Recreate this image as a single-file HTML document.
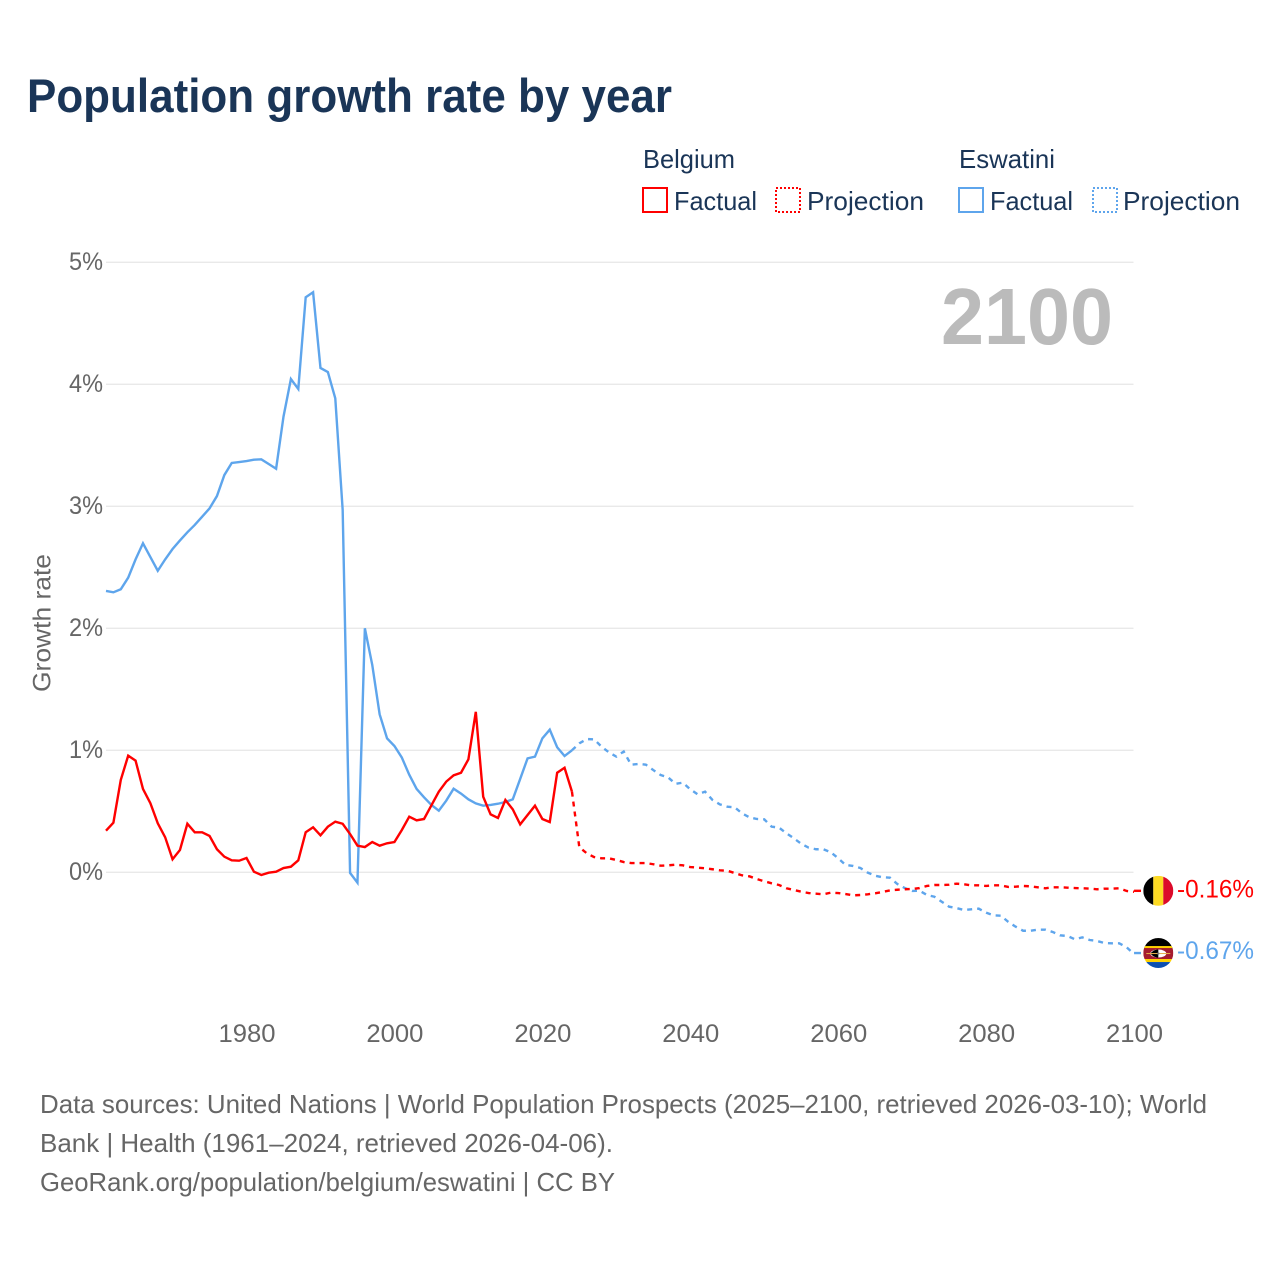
<!DOCTYPE html>
<html lang="en">
<head>
<meta charset="utf-8">
<title>Population growth rate by year</title>
<style>
html,body{margin:0;padding:0;background:#fff}
svg{display:block;font-family:"Liberation Sans",Arial,sans-serif}
</style>
</head>
<body>
<svg id="chart" xmlns="http://www.w3.org/2000/svg" width="1280" height="1280" viewBox="0 0 1280 1280">
  <rect x="0" y="0" width="1280" height="1280" fill="#ffffff"/>
  <text x="27" y="112" font-size="47" font-weight="700" fill="#1a3557" textLength="645" lengthAdjust="spacingAndGlyphs">Population growth rate by year</text>

  <g font-size="26" fill="#1a3557">
    <text x="643" y="168" textLength="92" lengthAdjust="spacingAndGlyphs">Belgium</text>
    <rect x="643" y="188" width="24" height="24" fill="none" stroke="#ff0000" stroke-width="2"/>
    <text x="674" y="210" textLength="83" lengthAdjust="spacingAndGlyphs">Factual</text>
    <rect x="776" y="188" width="24" height="24" fill="none" stroke="#ff0000" stroke-width="2" stroke-dasharray="2 2"/>
    <text x="807" y="210" textLength="117" lengthAdjust="spacingAndGlyphs">Projection</text>
    <text x="959" y="168" textLength="96" lengthAdjust="spacingAndGlyphs">Eswatini</text>
    <rect x="959" y="188" width="24" height="24" fill="none" stroke="#5ea5ec" stroke-width="2"/>
    <text x="990" y="210" textLength="83" lengthAdjust="spacingAndGlyphs">Factual</text>
    <rect x="1093" y="188" width="24" height="24" fill="none" stroke="#5ea5ec" stroke-width="2" stroke-dasharray="2 2"/>
    <text x="1123" y="210" textLength="117" lengthAdjust="spacingAndGlyphs">Projection</text>
  </g>

  <g id="grid"></g>
  <g id="yticks"></g>
  <g id="xticks"></g>
  <text transform="translate(50.5,692) rotate(-90)" font-size="25" fill="#666666" textLength="138" lengthAdjust="spacingAndGlyphs">Growth rate</text>
  <text x="941" y="344" font-size="80" font-weight="700" fill="#bbbbbb" textLength="172" lengthAdjust="spacingAndGlyphs">2100</text>

  <g id="series"></g>

  <defs>
    <clipPath id="flag-clip"><circle cx="0" cy="0" r="15"/></clipPath>
  </defs>
  <g id="flag-belgium">
    <g clip-path="url(#flag-clip)">
      <rect x="-15" y="-15" width="10" height="30" fill="#000000"/>
      <rect x="-5" y="-15" width="10" height="30" fill="#fdda24"/>
      <rect x="5" y="-15" width="10" height="30" fill="#dc0a2a"/>
    </g>
  </g>
  <g id="flag-eswatini">
    <g clip-path="url(#flag-clip)">
      <rect x="-15" y="-15" width="30" height="11" fill="#000000"/>
      <rect x="-15" y="-7" width="30" height="3" fill="#fed100"/>
      <rect x="-15" y="-5" width="30" height="11" fill="#a51c30"/>
      <rect x="-15" y="6" width="30" height="3" fill="#fed100"/>
      <rect x="-15" y="9" width="30" height="6" fill="#0c4fb0"/>
      <ellipse cx="0" cy="0.5" rx="8" ry="4" fill="#ffffff"/>
      <path d="M-8 0.5Q-4 -4 0 -3.5V4.5Q-4 5 -8 0.5Z" fill="#000000"/>
      <rect x="-12" y="0" width="24" height="1" fill="#e8b04a"/>
      <circle cx="0" cy="0.5" r="1.2" fill="#777777"/>
    </g>
  </g>
  <text id="label-belgium" font-size="25" fill="#ff0000" x="1177" textLength="77" lengthAdjust="spacingAndGlyphs"></text>
  <text id="label-eswatini" font-size="25" fill="#5ea5ec" x="1177" textLength="77" lengthAdjust="spacingAndGlyphs"></text>

  <g font-size="26" fill="#666666">
    <text x="40" y="1113" textLength="1167" lengthAdjust="spacingAndGlyphs">Data sources: United Nations | World Population Prospects (2025–2100, retrieved 2026-03-10); World</text>
    <text x="40" y="1152" textLength="573" lengthAdjust="spacingAndGlyphs">Bank | Health (1961–2024, retrieved 2026-04-06).</text>
    <text x="40" y="1191" textLength="575" lengthAdjust="spacingAndGlyphs">GeoRank.org/population/belgium/eswatini | CC BY</text>
  </g>
</svg>

<script>
const factualStartYear = 1961;
const projectionStartYear = 2024;
const xTickYears = [1980, 2000, 2020, 2040, 2060, 2080, 2100];
const yTickValues = [0, 1, 2, 3, 4, 5];
const yTickLabels = ["0%", "1%", "2%", "3%", "4%", "5%"];

const belgiumFactual = [0.341,0.407,0.757,0.956,0.915,0.683,0.566,0.402,0.287,0.107,0.183,0.398,0.328,0.328,0.298,0.189,0.128,0.098,0.095,0.117,0.005,-0.022,-0.003,0.005,0.035,0.046,0.098,0.328,0.369,0.303,0.374,0.415,0.398,0.314,0.218,0.207,0.248,0.218,0.238,0.248,0.347,0.456,0.426,0.437,0.549,0.661,0.743,0.795,0.816,0.926,1.315,0.62,0.475,0.445,0.593,0.516,0.393,0.47,0.546,0.437,0.412,0.816,0.857,0.661];
const eswatiniFactual = [2.306,2.295,2.32,2.415,2.565,2.697,2.584,2.472,2.565,2.65,2.72,2.787,2.847,2.915,2.983,3.084,3.256,3.355,3.363,3.371,3.382,3.385,3.347,3.308,3.735,4.043,3.962,4.713,4.754,4.134,4.1,3.885,2.97,-0.005,-0.085,2.0,1.7,1.295,1.098,1.035,0.94,0.8,0.683,0.615,0.552,0.505,0.587,0.685,0.645,0.598,0.565,0.546,0.552,0.562,0.576,0.598,0.765,0.934,0.948,1.098,1.169,1.025,0.953,1.0];
const belgiumProjection = [0.661,0.205,0.156,0.125,0.115,0.115,0.101,0.084,0.076,0.076,0.076,0.066,0.054,0.057,0.062,0.057,0.043,0.038,0.033,0.025,0.016,0.013,-0.006,-0.025,-0.033,-0.055,-0.074,-0.09,-0.104,-0.131,-0.145,-0.159,-0.17,-0.175,-0.18,-0.167,-0.17,-0.178,-0.189,-0.186,-0.18,-0.172,-0.161,-0.148,-0.143,-0.139,-0.137,-0.129,-0.112,-0.104,-0.104,-0.102,-0.093,-0.098,-0.107,-0.107,-0.112,-0.107,-0.107,-0.12,-0.118,-0.112,-0.115,-0.123,-0.131,-0.123,-0.123,-0.126,-0.129,-0.131,-0.134,-0.139,-0.134,-0.134,-0.131,-0.153,-0.16];
const eswatiniProjection = [1.0,1.057,1.092,1.09,1.03,0.983,0.948,0.99,0.882,0.888,0.882,0.838,0.797,0.778,0.725,0.735,0.68,0.639,0.661,0.593,0.557,0.538,0.533,0.483,0.451,0.437,0.434,0.374,0.366,0.32,0.279,0.234,0.202,0.189,0.189,0.164,0.115,0.06,0.052,0.035,-0.003,-0.028,-0.041,-0.044,-0.096,-0.129,-0.153,-0.151,-0.186,-0.2,-0.241,-0.282,-0.293,-0.309,-0.303,-0.298,-0.331,-0.353,-0.356,-0.407,-0.446,-0.479,-0.479,-0.47,-0.47,-0.489,-0.517,-0.522,-0.549,-0.533,-0.555,-0.563,-0.58,-0.582,-0.582,-0.615,-0.67];
const endValueLabels = ["-0.16%", "-0.67%"];

const SVGNS = "http://www.w3.org/2000/svg";
const plotLeft = 106, plotRight = 1133.5;
function xScale(year) { return 106 + (year - 1961) * 7.396; }
function yScale(value) { return 872.3 - value * 122; }

function linePath(startYear, values) {
  return values.map(function (v, i) {
    return (i ? "L" : "M") + xScale(startYear + i).toFixed(2) + " " + yScale(v).toFixed(2);
  }).join("");
}

const grid = document.getElementById("grid");
const yticks = document.getElementById("yticks");
yTickValues.forEach(function (v, i) {
  const ln = document.createElementNS(SVGNS, "line");
  
  
  ln.setAttribute("x1", plotLeft);
  ln.setAttribute("x2", plotRight);
  ln.setAttribute("y1", yScale(v));
  ln.setAttribute("y2", yScale(v));
  ln.setAttribute("stroke", "#e9e9e9");
  ln.setAttribute("stroke-width", "1.3");
  grid.appendChild(ln);
  const t = document.createElementNS(SVGNS, "text");
  
  
  t.setAttribute("x", 69);
  t.setAttribute("y", yScale(v) + 7.5);
  t.setAttribute("font-size", "25");
  t.setAttribute("fill", "#666666");
  t.setAttribute("textLength", "34");
  t.setAttribute("lengthAdjust", "spacingAndGlyphs");
  t.textContent = yTickLabels[i];
  yticks.appendChild(t);
});

const xticks = document.getElementById("xticks");
xTickYears.forEach(function (yr) {
  const t = document.createElementNS(SVGNS, "text");
  
  
  t.setAttribute("x", xScale(yr) - 28);
  t.setAttribute("y", 1042);
  t.setAttribute("font-size", "25");
  t.setAttribute("fill", "#666666");
  t.setAttribute("textLength", "57");
  t.setAttribute("lengthAdjust", "spacingAndGlyphs");
  t.textContent = String(yr);
  xticks.appendChild(t);
});

const series = document.getElementById("series");
function addLine(name, d, color, dashed) {
  const p = document.createElementNS(SVGNS, "path");
  
  
  p.setAttribute("d", d);
  p.setAttribute("fill", "none");
  p.setAttribute("stroke", color);
  p.setAttribute("stroke-width", "2.4");
  p.setAttribute("stroke-linejoin", "miter");
  if (dashed) p.setAttribute("stroke-dasharray", "5 5");
  series.appendChild(p);
}
addLine("eswatini-projection-line", linePath(projectionStartYear, eswatiniProjection), "#5ea5ec", true);
addLine("eswatini-factual-line", linePath(factualStartYear, eswatiniFactual), "#5ea5ec", false);
addLine("belgium-projection-line", linePath(projectionStartYear, belgiumProjection), "#ff0000", true);
addLine("belgium-factual-line", linePath(factualStartYear, belgiumFactual), "#ff0000", false);

const endYear = projectionStartYear + belgiumProjection.length - 1;
const belgiumEndY = yScale(belgiumProjection[belgiumProjection.length - 1]);
const eswatiniEndY = yScale(eswatiniProjection[eswatiniProjection.length - 1]);
addLine("belgium-end-connector", "M" + xScale(endYear) + " " + (belgiumEndY - 1) + "H1141", "#ff0000", false);
addLine("eswatini-end-connector", "M" + xScale(endYear) + " " + (eswatiniEndY - 1) + "H1141", "#5ea5ec", false);

document.getElementById("flag-belgium").setAttribute("transform", "translate(1158.3," + (belgiumEndY - 1) + ")");
document.getElementById("flag-eswatini").setAttribute("transform", "translate(1158.3," + (eswatiniEndY - 1) + ")");
const lb = document.getElementById("label-belgium");
lb.textContent = endValueLabels[0];
lb.setAttribute("y", belgiumEndY + 5.5);
const le = document.getElementById("label-eswatini");
le.textContent = endValueLabels[1];
le.setAttribute("y", eswatiniEndY + 5);
</script>
</body>
</html>
